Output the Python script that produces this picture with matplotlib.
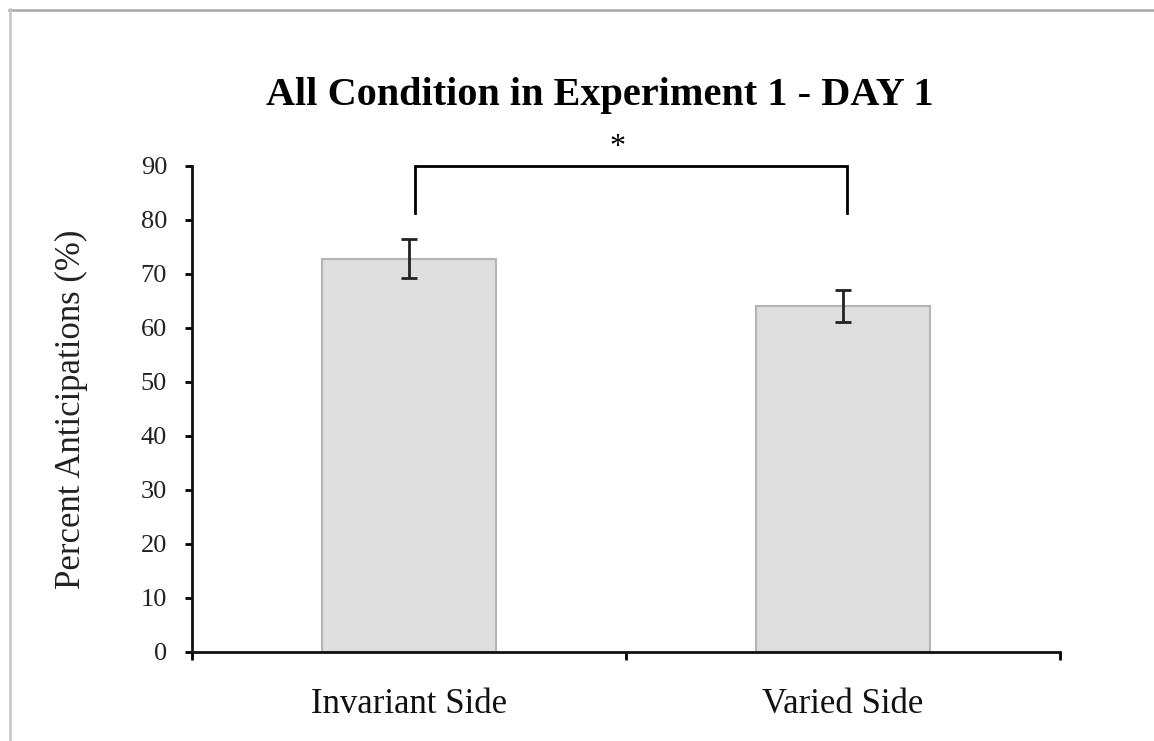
import numpy as np
import matplotlib.pyplot as plt
from matplotlib.lines import Line2D

# data
conditions = ['Invariant Side', 'Varied Side']
percent = [72.8, 64.1]
se = [3.6, 2.9]
yticks = [0, 10, 20, 30, 40, 50, 60, 70, 80, 90]
bracket_low = 81.3
bracket_top = 90
star_x = 0.48
star_y = 93.4

plt.rcParams['font.family'] = ['Liberation Serif', 'DejaVu Serif']

fig = plt.figure(figsize=(11.54, 7.41), dpi=100)
ax = fig.add_axes([192/1154, 89/741, 868/1154, 486/741])

x = np.arange(len(conditions))
ax.bar(x, percent, width=0.4, color='#dedede', edgecolor='#b4b4b4', linewidth=1.5, zorder=2)
ax.errorbar(x, percent, yerr=se, fmt='none', ecolor='#222222', elinewidth=2,
            capsize=5.5, capthick=2, zorder=3)

ax.set_xlim(-0.5, 1.5)
ax.set_ylim(0, 90)
ax.set_yticks(yticks)
ax.set_yticklabels([str(v) for v in yticks], fontsize=19, color='#222222')
ax.set_xticks(x)
ax.set_xticklabels(conditions, fontsize=25, color='#111111')
ax.set_xticks([-0.5, 0.5, 1.5], minor=True)
ax.tick_params(axis='x', which='major', length=0, pad=26)
ax.tick_params(axis='x', which='minor', length=6, width=2, direction='out')
ax.tick_params(axis='y', length=5, width=2, direction='out', pad=13)
ax.set_ylabel('Percent Anticipations (%)', fontsize=25, labelpad=38, color='#222222')

for s in ['top', 'right']:
    ax.spines[s].set_visible(False)
for s in ['left', 'bottom']:
    ax.spines[s].set_linewidth(2)
    ax.spines[s].set_color('#111111')

# significance bracket
bx = [x[0] + 0.014, x[1] + 0.009]
ax.plot([bx[0], bx[0], bx[1], bx[1]], [bracket_low, bracket_top, bracket_top, bracket_low],
        color='black', linewidth=2, clip_on=False, solid_joinstyle='miter')
ax.text(star_x, star_y, '*', ha='center', va='center', fontsize=23)

fig.text(600/1154, 1 - 95/741, 'All Condition in Experiment 1 - DAY 1',
         ha='center', va='center', fontsize=29, fontweight='bold')

# outer gray frame
fig.add_artist(Line2D([9/1154, 1], [1 - 9.5/741, 1 - 9.5/741], color='#a8a8a8', linewidth=1.8))
fig.add_artist(Line2D([9.5/1154, 9.5/1154], [0, 1 - 9/741], color='#c4c4c4', linewidth=1.8))

fig.savefig('out.png', dpi=100)
